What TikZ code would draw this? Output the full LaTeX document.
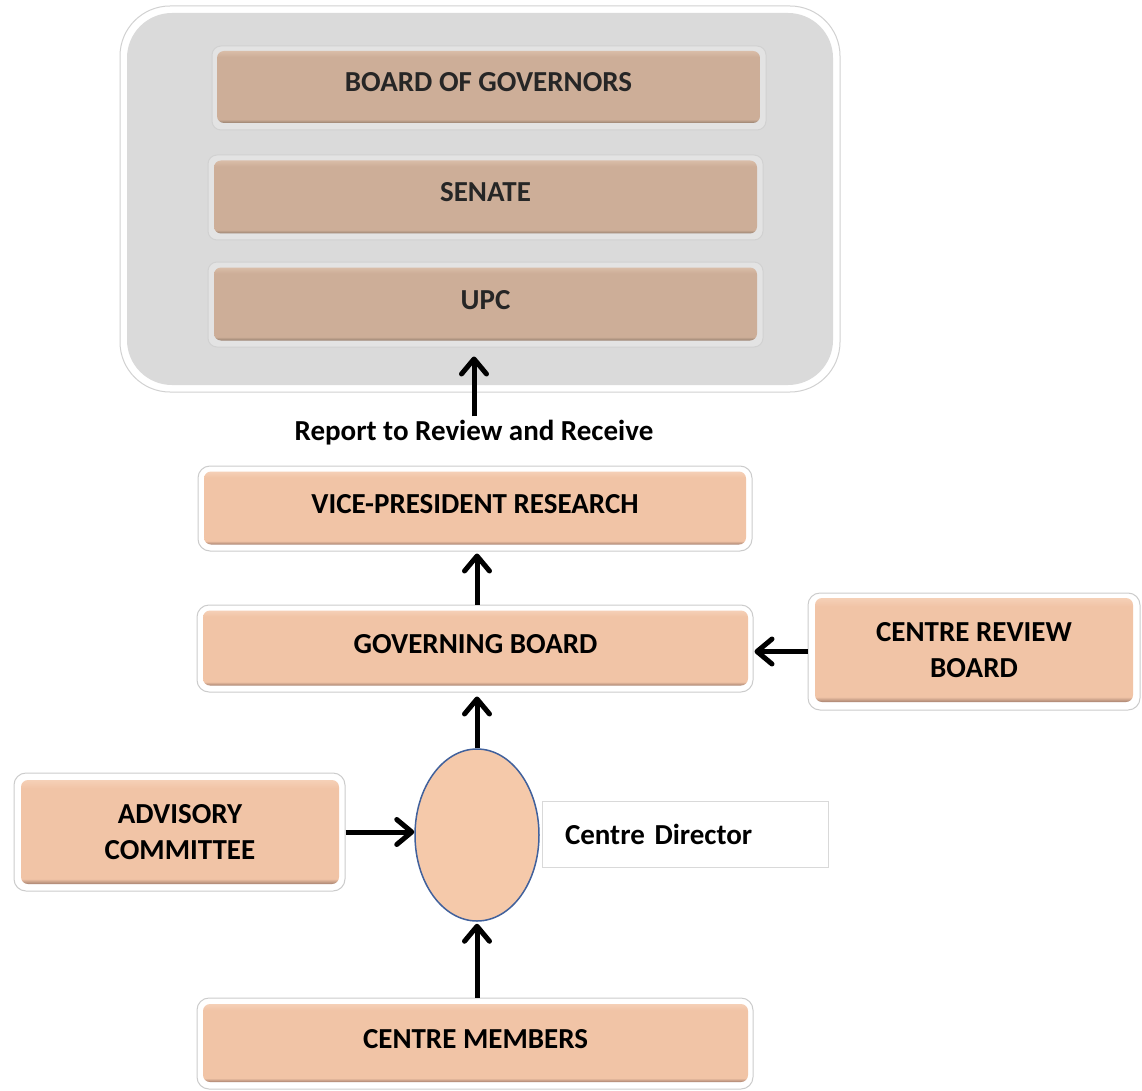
\documentclass[tikz,border=0pt]{standalone}
\usepackage{fontspec}
\setmainfont{Carlito}
\usetikzlibrary{arrows.meta,shapes.geometric}
\definecolor{peach}{HTML}{F1C4A6}
\definecolor{peachlt}{HTML}{F5D0B7}
\definecolor{peachdk}{HTML}{A88270}
\definecolor{tanc}{HTML}{CDAE98}
\definecolor{tanlt}{HTML}{D9BDA8}
\definecolor{tandk}{HTML}{97806F}
\definecolor{panelgrey}{HTML}{DADADA}
\definecolor{framegrey}{HTML}{E3E3E3}
\definecolor{ellblue}{HTML}{41619C}
\definecolor{ellfill}{HTML}{F5C9AA}
\pgfdeclareverticalshading{peachshade}{100bp}{color(0bp)=(peachdk); color(25bp)=(peachdk); color(27.5bp)=(peach); color(71bp)=(peach); color(75bp)=(peachlt); color(100bp)=(peachlt)}
\pgfdeclareverticalshading{tanshade}{100bp}{color(0bp)=(tandk); color(25bp)=(tandk); color(27.5bp)=(tanc); color(71bp)=(tanc); color(75bp)=(tanlt); color(100bp)=(tanlt)}
\begin{document}
\begin{tikzpicture}[x=1pt,y=-1pt,
  every node/.style={font=\bfseries\fontsize{29}{36}\selectfont, inner sep=0pt},
  greyframe/.style={rectangle, rounded corners=9pt, fill=framegrey, draw=black!18, line width=1pt},
  whiteframe/.style={rectangle, rounded corners=12pt, fill=white, draw=black!20, line width=1pt},
  tanbox/.style={rectangle, rounded corners=7pt, shading=tanshade, text=black!85, align=center},
  peachbox/.style={rectangle, rounded corners=7pt, shading=peachshade, text=black, align=center},
  oneline/.style={text height=20pt, text depth=10pt},
  arr/.style={line width=5pt, -{Straight Barb[length=15pt,width=25pt,line width=5pt,round]}}
]
\useasboundingbox (0,0) rectangle (1142,1091);
\fill[white] (0,0) rectangle (1142,1091);

% top panel
\node[rectangle, rounded corners=50pt, fill=white, draw=black!18, line width=1pt,
      minimum width=720pt, minimum height=386pt] (ring) at (480,199) {};
\node[rectangle, rounded corners=45pt, fill=panelgrey,
      minimum width=706pt, minimum height=372pt] (panel) at (480,199) {};

\node[greyframe, minimum width=554pt, minimum height=84pt] (bogf) at (489,88) {};
\node[tanbox, oneline, minimum width=543pt, minimum height=72pt] (bog) at (488.5,87) {BOARD OF GOVERNORS};
\node[greyframe, minimum width=555pt, minimum height=85pt] (senf) at (485.5,197.5) {};
\node[tanbox, oneline, minimum width=543pt, minimum height=73pt] (sen) at (485.5,197) {SENATE};
\node[greyframe, minimum width=555pt, minimum height=85pt] (upcf) at (485.5,304.5) {};
\node[tanbox, oneline, minimum width=543pt, minimum height=73pt] (upc) at (485.5,304) {UPC};

\node (rep) at (474,433) {Report to Review and Receive};

% middle boxes
\node[whiteframe, minimum width=554pt, minimum height=85pt] (vpf) at (475,508.5) {};
\node[peachbox, oneline, minimum width=542pt, minimum height=73pt] (vp) at (475,508) {VICE-PRESIDENT RESEARCH};
\node[whiteframe, minimum width=556pt, minimum height=87pt] (gbf) at (475,648.5) {};
\node[peachbox, oneline, minimum width=545pt, minimum height=75pt] (gb) at (475.5,648) {GOVERNING BOARD};
\node[whiteframe, minimum width=332pt, minimum height=117pt] (crbf) at (974,651.5) {};
\node[peachbox, minimum width=318pt, minimum height=104pt] (crb) at (974,650) {CENTRE REVIEW\\BOARD};
\node[whiteframe, minimum width=331pt, minimum height=118pt] (acf) at (179.5,832) {};
\node[peachbox, minimum width=318pt, minimum height=104pt] (ac) at (180,832) {ADVISORY\\COMMITTEE};
\node[ellipse, fill=ellfill, draw=ellblue, line width=1.5pt,
      minimum width=124pt, minimum height=172pt] (ell) at (477,835) {};
\node[rectangle, fill=white, draw=black!15, line width=1pt, minimum height=66pt,
      text width=240pt, inner xsep=23pt, align=left] (cd) at (685,834) {\mbox{Centre Director}};
\node[whiteframe, minimum width=556pt, minimum height=91pt] (cmf) at (475,1043.5) {};
\node[peachbox, oneline, minimum width=545pt, minimum height=78pt] (cm) at (475.5,1043) {CENTRE MEMBERS};

% connectors
\draw[arr, shorten <=4pt, shorten >=9pt] (rep.north) -- (rep.north |- upcf.south);
\draw[arr, shorten >=2pt] ([xshift=2pt]gbf.north) -- ([xshift=2pt]vpf.south);
\draw[arr, shorten >=1pt] (crbf.west) -- (crbf.west -| gbf.east);
\draw[arr, shorten >=4pt] (ell.north) -- (ell.north |- gbf.south);
\draw[arr] (acf.east) -- (acf.east -| ell.west);
\draw[arr, shorten >=2pt] (ell.south |- cmf.north) -- (ell.south);
\end{tikzpicture}
\end{document}
